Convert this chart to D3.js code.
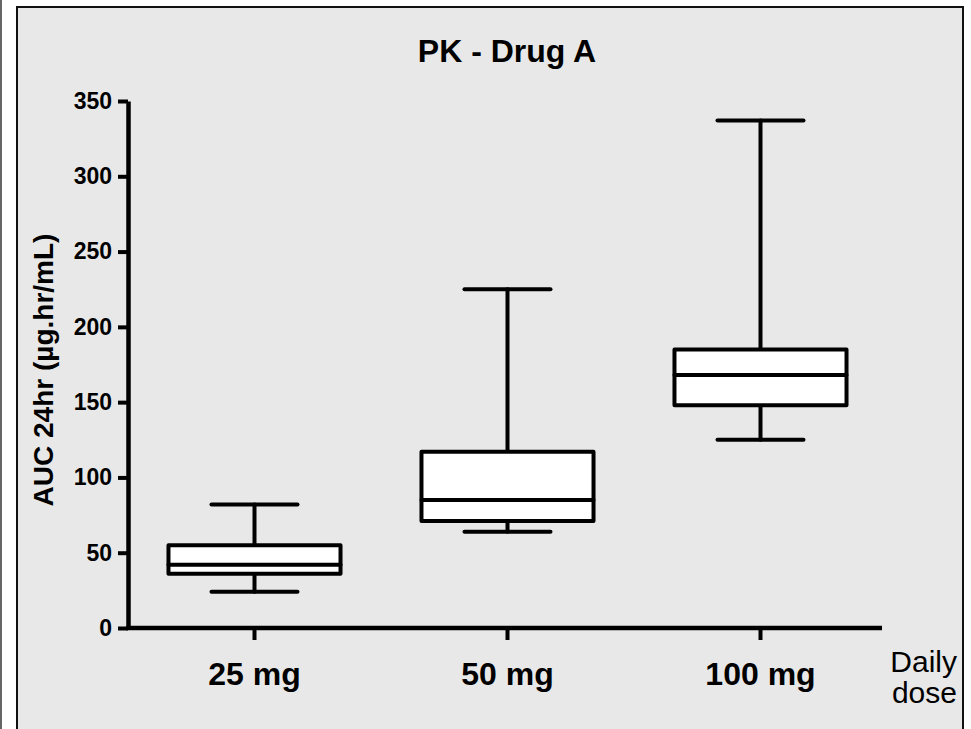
<!DOCTYPE html>
<html><head><meta charset="utf-8">
<script src="https://cdn.jsdelivr.net/npm/d3@7"></script>
<style>body{margin:0;background:#fff}svg{display:block}</style>
</head><body>
<script>
const categories = ["25 mg", "50 mg", "100 mg"];
const whiskerMin = [24, 64, 125];
const q1 = [36, 71, 148];
const median = [42, 85, 168];
const q3 = [55, 117, 185];
const whiskerMax = [82, 225, 337];
const yTicks = [0, 50, 100, 150, 200, 250, 300, 350];
const title = "PK - Drug A";
const yLabel = "AUC 24hr (µg.hr/mL)";
const xLabelLines = ["Daily", "dose"];

const W = 971, H = 729;
const svg = d3.select("body").append("svg").attr("width", W).attr("height", H)
  .style("font-family", "'Liberation Sans', Arial, sans-serif");

// frame
svg.append("rect").attr("x", 0).attr("y", 0).attr("width", W).attr("height", H).attr("fill", "#fff");
svg.append("line").attr("x1", 1).attr("x2", 1).attr("y1", 0).attr("y2", H).attr("stroke", "#666").attr("stroke-width", 2);
svg.append("rect").attr("x", 17).attr("y", 7).attr("width", 946).attr("height", H).attr("fill", "#e8e8e8")
  .attr("stroke", "#111").attr("stroke-width", 2);

const y = d3.scaleLinear().domain([0, 350]).range([628, 101]);
const x = d3.scaleBand().domain(categories).range([128, 128 + 3 * 253]).paddingInner(0.32).paddingOuter(0.16);

// Title
svg.append("text").attr("x", 507).attr("y", 62).attr("text-anchor", "middle")
  .attr("font-size", 32).attr("font-weight", "bold").attr("fill", "#000").text(title);

// Y axis
const yAxis = svg.append("g").attr("transform", "translate(128,0)")
  .call(d3.axisLeft(y).tickValues(yTicks).tickSize(10).tickSizeOuter(0).tickPadding(6));
yAxis.select(".domain").attr("stroke", "#000").attr("stroke-width", 4.5);
yAxis.selectAll(".tick line").attr("stroke", "#000").attr("stroke-width", 4);
yAxis.selectAll(".tick text").attr("font-size", 23).attr("font-weight", "bold")
  .attr("fill", "#000").attr("font-family", "'Liberation Sans', Arial, sans-serif");

// X axis
const xAxis = svg.append("g").attr("transform", "translate(0,628)")
  .call(d3.axisBottom(x).tickSize(12).tickSizeOuter(0).tickPadding(22));
xAxis.select(".domain").attr("d", "M126,0H882").attr("stroke", "#000").attr("stroke-width", 4.5);
xAxis.selectAll(".tick line").attr("stroke", "#000").attr("stroke-width", 4);
xAxis.selectAll(".tick text").attr("font-size", 32).attr("font-weight", "bold")
  .attr("fill", "#000").attr("font-family", "'Liberation Sans', Arial, sans-serif");

// Y label
svg.append("text").attr("transform", "translate(53,370) rotate(-90)").attr("text-anchor", "middle")
  .attr("font-size", 28).attr("font-weight", "bold").attr("fill", "#000").text(yLabel);

// X label
svg.append("text").attr("text-anchor", "end").attr("font-size", 30).attr("fill", "#000")
  .selectAll("tspan").data(xLabelLines).join("tspan")
  .attr("x", 957).attr("y", (d, i) => 672 + i * 31).text(d => d);

// boxes
const g = svg.append("g").attr("stroke", "#000").attr("stroke-width", 4).attr("stroke-linecap", "round").attr("stroke-linejoin", "round");
categories.forEach((c, i) => {
  const cx = x(c) + x.bandwidth() / 2;
  const bw = x.bandwidth();
  const capW = bw * 0.5;
  g.append("line").attr("x1", cx).attr("x2", cx).attr("y1", y(whiskerMax[i])).attr("y2", y(q3[i]));
  g.append("line").attr("x1", cx).attr("x2", cx).attr("y1", y(q1[i])).attr("y2", y(whiskerMin[i]));
  g.append("line").attr("x1", cx - capW / 2).attr("x2", cx + capW / 2).attr("y1", y(whiskerMax[i])).attr("y2", y(whiskerMax[i]));
  g.append("line").attr("x1", cx - capW / 2).attr("x2", cx + capW / 2).attr("y1", y(whiskerMin[i])).attr("y2", y(whiskerMin[i]));
  g.append("rect").attr("x", x(c)).attr("width", bw).attr("y", y(q3[i])).attr("height", y(q1[i]) - y(q3[i])).attr("fill", "#fff");
  g.append("line").attr("x1", x(c)).attr("x2", x(c) + bw).attr("y1", y(median[i])).attr("y2", y(median[i]));
});
</script>
</body></html>
